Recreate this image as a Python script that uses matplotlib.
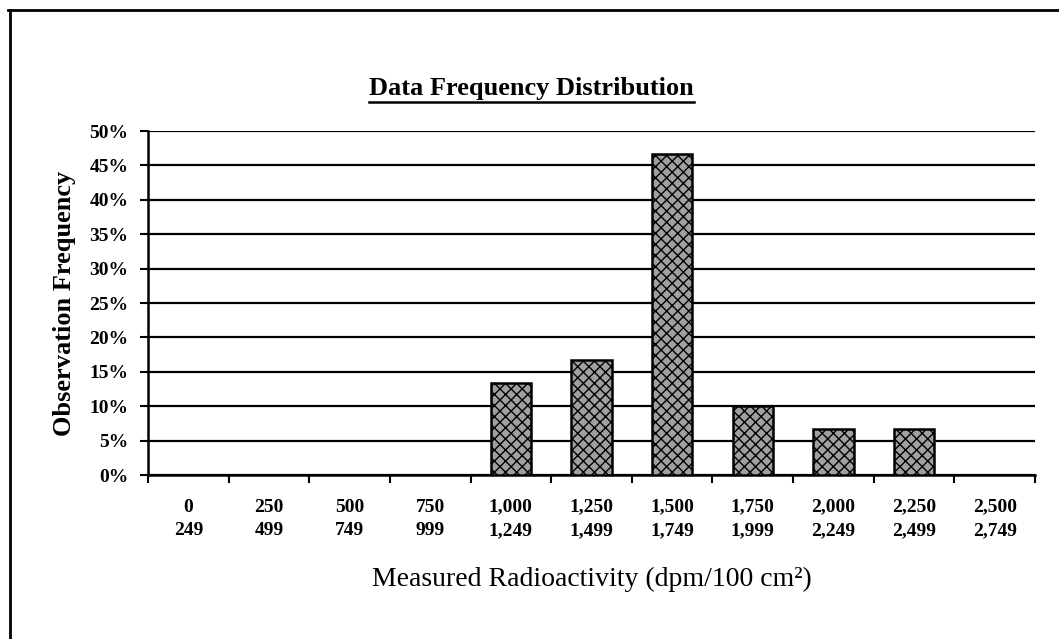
import matplotlib.pyplot as plt
import numpy as np
from matplotlib.lines import Line2D
from matplotlib.ticker import FixedLocator, PercentFormatter

# bin lower / upper edges (dpm/100 cm2) and observation frequency (%)
bin_low = ["0", "250", "500", "750", "1,000", "1,250", "1,500", "1,750", "2,000", "2,250", "2,500"]
bin_high = ["249", "499", "749", "999", "1,249", "1,499", "1,749", "1,999", "2,249", "2,499", "2,749"]
freq = [0, 0, 0, 0, 13.3, 16.7, 46.7, 10.0, 6.7, 6.7, 0]

plt.rcParams['font.family'] = ['Liberation Serif', 'DejaVu Serif']

fig = plt.figure(figsize=(10.59, 6.39), dpi=100)
ax = fig.add_axes([148/1059, 1-475/639, (1035-148)/1059, (475-131)/639])

x = np.arange(len(freq))
ax.bar(x, freq, width=0.5, facecolor='#a0a0a0', edgecolor='black',
       linewidth=1.8, hatch='xxx', zorder=3)

ax.set_xlim(-0.5, len(freq)-0.5)
ax.set_ylim(0, 50)
ax.yaxis.set_major_locator(FixedLocator(np.arange(0, 51, 5)))
ax.yaxis.set_major_formatter(PercentFormatter(decimals=0))
ax.grid(axis='y', color='black', linewidth=1.6, zorder=1)

# categories centred, ticks on the boundaries
ax.set_xticks(x)
ax.set_xticklabels([a + "\n" + b for a, b in zip(bin_low, bin_high)],
                   fontsize=14, fontweight='bold', linespacing=1.5)
ax.set_xticks(np.arange(-0.5, len(freq)), minor=True)
ax.tick_params(axis='x', which='major', length=0, pad=17)
ax.tick_params(axis='x', which='minor', length=6, width=1.5, direction='out')
ax.tick_params(axis='y', length=6, width=1.5, direction='out', labelsize=14, pad=8)
for lab in ax.get_yticklabels():
    lab.set_fontweight('bold')

for s in ['top', 'right']:
    ax.spines[s].set_visible(False)
for s in ['left', 'bottom']:
    ax.spines[s].set_linewidth(1.8)

ax.set_ylabel('Observation Frequency', fontsize=19, fontweight='bold', labelpad=10)
ax.set_xlabel('Measured Radioactivity (dpm/100 cm²)', fontsize=20, labelpad=20)

# title with underline
title = fig.text(0.502, 1-88/639, 'Data Frequency Distribution', ha='center', va='center',
                 fontsize=19, fontweight='bold')
fig.canvas.draw()
bb = title.get_window_extent().transformed(fig.transFigure.inverted())
fig.add_artist(Line2D([bb.x0, bb.x1], [bb.y0 - 0.004, bb.y0 - 0.004],
                      color='black', linewidth=1.8, transform=fig.transFigure))

# page frame (top and left edges)
fig.add_artist(Line2D([8/1059, 1], [1-10/639, 1-10/639], color='black', linewidth=2,
                      transform=fig.transFigure))
fig.add_artist(Line2D([10/1059, 10/1059], [0, 1-10/639], color='black', linewidth=2,
                      transform=fig.transFigure))

fig.savefig('out.png', dpi=100)
